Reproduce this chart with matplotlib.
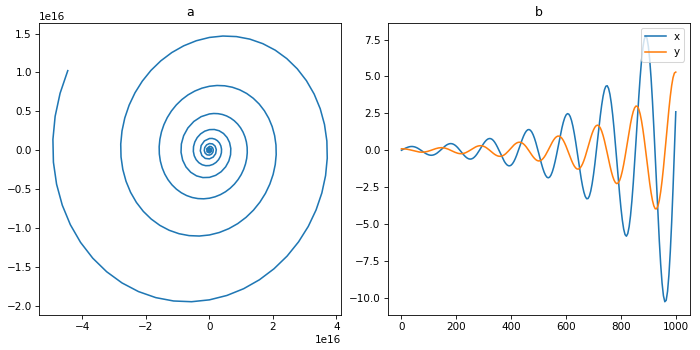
import numpy as np
import matplotlib
matplotlib.use("Agg")
import matplotlib.pyplot as plt

# ---- panel a: spiral path, values in units of 1e16, innermost turns first ----
a_x = [0, 0.0184, 0.0202, 0, -0.0245, -0.0269,
       0, 0.0325, 0.0357, 0, -0.0432, -0.0474,
       0, 0.0573, 0.0630, 0, -0.0762, -0.0837,
       0, 0.0557, 0.1012, 0.1225, 0.1112, 0.0673, 0, -0.0740, -0.1344, -0.1627, -0.1477, -0.0895,
       0, 0.0983, 0.1786, 0.2162, 0.1963, 0.1188, 0, -0.1306, -0.2372, -0.2872, -0.2607, -0.1579,
       0, 0.0877, 0.1735, 0.2513, 0.3151, 0.3599, 0.3815, 0.3773, 0.3464, 0.2896, 0.2097, 0.1111,
       0, -0.1165, -0.2305, -0.3338, -0.4186, -0.4780, -0.5068, -0.5012, -0.4601, -0.3847, -0.2786, -0.1476,
       0, 0.1548, 0.3062, 0.4434, 0.5561, 0.6351, 0.6732, 0.6658, 0.6113, 0.5111, 0.3700, 0.1961,
       0, -0.2056, -0.4068, -0.5890, -0.7387, -0.8436, -0.8943, -0.8845, -0.8120, -0.6789, -0.4916, -0.2605,
       0, 0.1361, 0.2731, 0.4087, 0.5404, 0.6658, 0.7825, 0.8884, 0.9813, 1.0593, 1.1207, 1.1640,
       1.1880, 1.1919, 1.1750, 1.1373, 1.0787, 1.0001, 0.9019, 0.7858, 0.6530, 0.5058, 0.3461, 0.1766,
       0, -0.1808, -0.3628, -0.5430, -0.7178, -0.8844, -1.0394, -1.1802, -1.3036, -1.4073, -1.4887, -1.5462,
       -1.5782, -1.5833, -1.5609, -1.5108, -1.4330, -1.3285, -1.1981, -1.0438, -0.8675, -0.6719, -0.4597, -0.2346,
       0, 0.2402, 0.4820, 0.7213, 0.9536, 1.1749, 1.3809, 1.5678, 1.7317, 1.8694, 1.9777, 2.0541,
       2.0965, 2.1033, 2.0735, 2.0070, 1.9036, 1.7648, 1.5915, 1.3866, 1.1523, 0.8925, 0.6107, 0.3116,
       0, -0.3191, -0.6403, -0.9582, -1.2667, -1.5607, -1.8343, -2.0827, -2.3004, -2.4834, -2.6271, -2.7286,
       -2.7850, -2.7940, -2.7545, -2.6661, -2.5288, -2.3443, -2.1142, -1.8419, -1.5308, -1.1857, -0.8113, -0.4140,
       0, 0.4239, 0.8506, 1.2729, 1.6828, 2.0733, 2.4368, 2.7667, 3.0559, 3.2990, 3.4900, 3.6248,
       3.6998, 3.7116, 3.6591, 3.5417, 3.3593, 3.1143, 2.8086, 2.4469, 2.0335, 1.5750, 1.0777, 0.5499,
       0, -0.5631, -1.1299, -1.6909, -2.2354, -2.7542, -3.2371, -3.6754, -4.0595, -4.3824, -4.6361, -4.8152,
       -4.9148, -4.9305, -4.8608, -4.7048, -4.4626]
a_y = [0.0087, 0.0054, -0.0046, -0.0116, -0.0071, 0.0062,
       0.0154, 0.0095, -0.0082, -0.0205, -0.0126, 0.0109,
       0.0272, 0.0168, -0.0145, -0.0361, -0.0223, 0.0192,
       0.0480, 0.0454, 0.0296, 0.0039, -0.0255, -0.0505, -0.0638, -0.0603, -0.0393, -0.0052, 0.0339, 0.0672,
       0.0847, 0.0801, 0.0522, 0.0069, -0.0450, -0.0892, -0.1125, -0.1064, -0.0694, -0.0091, 0.0598, 0.1185,
       0.1495, 0.1506, 0.1413, 0.1214, 0.0921, 0.0550, 0.0121, -0.0338, -0.0794, -0.1217, -0.1574, -0.1838,
       -0.1986, -0.2001, -0.1877, -0.1613, -0.1224, -0.0729, -0.0160, 0.0448, 0.1055, 0.1616, 0.2091, 0.2442,
       0.2638, 0.2658, 0.2493, 0.2143, 0.1626, 0.0970, 0.0213, -0.0596, -0.1401, -0.2147, -0.2778, -0.3244,
       -0.3505, -0.3531, -0.3312, -0.2847, -0.2160, -0.1287, -0.0283, 0.0791, 0.1861, 0.2852, 0.3690, 0.4310,
       0.4656, 0.4714, 0.4691, 0.4587, 0.4399, 0.4130, 0.3782, 0.3360, 0.2870, 0.2317, 0.1711, 0.1060,
       0.0376, -0.0332, -0.1051, -0.1769, -0.2472, -0.3151, -0.3789, -0.4377, -0.4902, -0.5356, -0.5725, -0.6005,
       -0.6185, -0.6262, -0.6232, -0.6093, -0.5844, -0.5487, -0.5024, -0.4464, -0.3812, -0.3078, -0.2272, -0.1408,
       -0.0499, 0.0441, 0.1396, 0.2349, 0.3284, 0.4185, 0.5033, 0.5815, 0.6512, 0.7115, 0.7605, 0.7976,
       0.8217, 0.8319, 0.8279, 0.8094, 0.7762, 0.7288, 0.6674, 0.5930, 0.5064, 0.4089, 0.3019, 0.1871,
       0.0663, -0.0585, -0.1854, -0.3121, -0.4363, -0.5560, -0.6686, -0.7724, -0.8651, -0.9452, -1.0103, -1.0596,
       -1.0915, -1.1051, -1.0998, -1.0752, -1.0312, -0.9682, -0.8866, -0.7878, -0.6727, -0.5432, -0.4010, -0.2485,
       -0.0881, 0.0778, 0.2464, 0.4145, 0.5795, 0.7385, 0.8881, 1.0261, 1.1492, 1.2555, 1.3421, 1.4075,
       1.4500, 1.4681, 1.4610, 1.4283, 1.3698, 1.2861, 1.1778, 1.0465, 0.8936, 0.7216, 0.5328, 0.3301,
       0.1170, -0.1033, -0.3273, -0.5507, -0.7699, -0.9811, -1.1798, -1.3630, -1.5266, -1.6679, -1.7829, -1.8698,
       -1.9262, -1.9502, -1.9408, -1.8974, -1.8197, -1.7085, -1.5646, -1.3902, -1.1871, -0.9586, -0.7077, -0.4385,
       -0.1554, 0.1373, 0.4347, 0.7315, 1.0227]

# ---- panel b: x and y read every 5 steps ----
steps = list(range(0, 1001, 5))
b_x = [0.000, 0.049, 0.098, 0.144, 0.185, 0.218, 0.241, 0.254, 0.254, 0.241,
       0.216, 0.179, 0.132, 0.076, 0.014, -0.051, -0.117, -0.179, -0.235, -0.281,
       -0.315, -0.335, -0.339, -0.326, -0.296, -0.250, -0.190, -0.118, -0.037, 0.049,
       0.137, 0.221, 0.297, 0.361, 0.410, 0.441, 0.451, 0.438, 0.403, 0.347,
       0.271, 0.178, 0.073, -0.041, -0.157, -0.270, -0.374, -0.463, -0.533, -0.579,
       -0.599, -0.588, -0.549, -0.479, -0.384, -0.265, -0.128, 0.021, 0.175, 0.327,
       0.468, 0.592, 0.691, 0.760, 0.793, 0.788, 0.744, 0.660, 0.540, 0.388,
       0.210, 0.015, -0.189, -0.392, -0.583, -0.754, -0.893, -0.994, -1.048, -1.053,
       -1.005, -0.905, -0.756, -0.563, -0.333, -0.078, 0.192, 0.463, 0.722, 0.956,
       1.151, 1.296, 1.383, 1.404, 1.355, 1.237, 1.052, 0.807, 0.511, 0.178,
       -0.177, -0.539, -0.888, -1.207, -1.479, -1.687, -1.820, -1.867, -1.823, -1.686,
       -1.458, -1.149, -0.769, -0.336, 0.133, 0.613, 1.083, 1.517, 1.893, 2.191,
       2.390, 2.478, 2.446, 2.290, 2.012, 1.624, 1.137, 0.575, -0.040, -0.677,
       -1.307, -1.898, -2.416, -2.836, -3.131, -3.281, -3.273, -3.101, -2.767, -2.281,
       -1.660, -0.932, -0.126, 0.718, 1.560, 2.359, 3.073, 3.662, 4.091, 4.334,
       4.370, 4.188, 3.790, 3.186, 2.396, 1.457, 0.405, -0.710, -1.835, -2.914,
       -3.891, -4.714, -5.334, -5.712, -5.821, -5.642, -5.173, -4.428, -3.429, -2.219,
       -0.848, 0.622, 2.119, 3.572, 4.906, 6.050, 6.936, 7.512, 7.735, 7.581,
       7.041, 6.126, 4.868, 3.315, 1.533, -0.399, -2.390, -4.342, -6.156, -7.738,
       -8.996, -9.855, -10.257, -10.162, -9.554, -8.440, -6.866, -4.880, -2.567, -0.033,
       2.605]
b_y = [0.098, 0.099, 0.095, 0.086, 0.073, 0.055, 0.034, 0.011, -0.014, -0.040,
       -0.064, -0.087, -0.106, -0.120, -0.129, -0.132, -0.128, -0.118, -0.101, -0.079,
       -0.052, -0.021, 0.012, 0.046, 0.079, 0.109, 0.135, 0.156, 0.169, 0.175,
       0.172, 0.160, 0.140, 0.112, 0.077, 0.037, -0.006, -0.051, -0.096, -0.137,
       -0.173, -0.202, -0.222, -0.232, -0.230, -0.217, -0.193, -0.158, -0.113, -0.061,
       -0.004, 0.055, 0.115, 0.170, 0.220, 0.261, 0.290, 0.306, 0.308, 0.294,
       0.264, 0.221, 0.164, 0.097, 0.022, -0.056, -0.135, -0.211, -0.279, -0.336,
       -0.379, -0.404, -0.410, -0.396, -0.361, -0.307, -0.236, -0.149, -0.052, 0.052,
       0.158, 0.260, 0.353, 0.432, 0.493, 0.532, 0.545, 0.532, 0.492, 0.426,
       0.335, 0.224, 0.098, -0.039, -0.179, -0.316, -0.443, -0.553, -0.640, -0.698,
       -0.724, -0.714, -0.668, -0.587, -0.474, -0.332, -0.167, 0.012, 0.198, 0.382,
       0.554, 0.706, 0.828, 0.914, 0.958, 0.956, 0.905, 0.808, 0.666, 0.484,
       0.272, 0.037, -0.210, -0.456, -0.689, -0.898, -1.070, -1.195, -1.266, -1.276,
       -1.223, -1.106, -0.930, -0.700, -0.425, -0.117, 0.208, 0.537, 0.852, 1.137,
       1.377, 1.558, 1.668, 1.700, 1.647, 1.510, 1.292, 1.001, 0.647, 0.247,
       -0.182, -0.620, -1.044, -1.433, -1.767, -2.026, -2.194, -2.259, -2.213, -2.056,
       -1.788, -1.421, -0.967, -0.447, 0.118, 0.699, 1.269, 1.799, 2.260, 2.628,
       2.878, 2.995, 2.967, 2.789, 2.464, 2.004, 1.423, 0.748, 0.008, -0.763,
       -1.526, -2.245, -2.880, -3.399, -3.767, -3.963, -3.967, -3.774, -3.384, -2.809,
       -2.069, -1.196, -0.228, 0.792, 1.814, 2.786, 3.659, 4.383, 4.919, 5.230,
       5.293]

fig, (ax1, ax2) = plt.subplots(1, 2, figsize=(700 / 75, 350 / 75), dpi=75)
fig.subplots_adjust(left=0.056, right=0.985, bottom=0.1, top=0.935, wspace=0.155)

ax1.plot(np.array(a_x) * 1e16, np.array(a_y) * 1e16)
ax1.set_title('a')

ax2.plot(steps, b_x, label='x')
ax2.plot(steps, b_y, label='y')
ax2.set_title('b')
ax2.legend(loc='upper right')

plt.savefig('out.png')
